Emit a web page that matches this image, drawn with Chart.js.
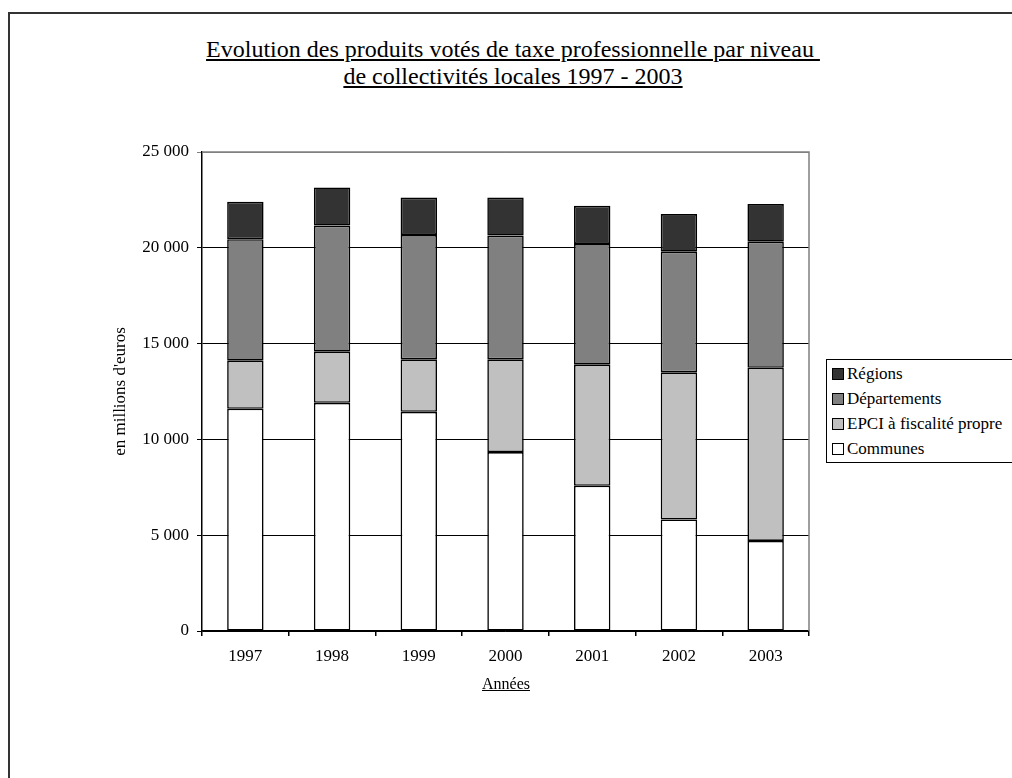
<!DOCTYPE html>
<html lang="fr">
<head>
<meta charset="utf-8">
<title>Taxe professionnelle 1997 - 2003</title>
<script src="https://cdn.jsdelivr.net/npm/chart.js@4.4.1/dist/chart.umd.min.js"></script>
<style>
  html, body { margin: 0; padding: 0; background: #fff; }
  body { width: 1012px; height: 778px; overflow: hidden; position: relative; font-family: "Liberation Serif", "Times New Roman", serif; color: #000; }
  #frame { position: absolute; left: 8px; top: 12px; width: 1100px; height: 900px; border-left: 2px solid #333; border-top: 2px solid #333; }
  #titre { position: absolute; left: 0; width: 1026px; top: 36px; text-align: center; font-size: 24px; line-height: 27px; }
  #titre span { text-decoration: underline; }
  #canvasWrap { position: absolute; left: 0; top: 0; width: 1012px; height: 778px; }
  #annees { position: absolute; left: 406px; width: 200px; top: 675px; text-align: center; font-size: 16px; text-decoration: underline; }
  #legende { position: absolute; left: 826px; top: 359px; width: 220px; height: 102px; border: 1px solid #000; background: #fff; }
  .item { position: absolute; left: 5px; height: 20px; font-size: 17px; line-height: 20px; white-space: nowrap; }
  .item i { display: inline-block; width: 10px; height: 10px; border: 1.5px solid #000; margin-right: 3px; vertical-align: -1px; }
</style>
</head>
<body>
<div id="frame"></div>
<div id="titre"><span>Evolution des produits votés de taxe professionnelle par niveau&nbsp;</span><br><span>de collectivités locales 1997 - 2003</span></div>
<div id="canvasWrap"><canvas id="graphique"></canvas></div>
<div id="annees">Années</div>
<div id="legende"></div>
<script>
// données (millions d'euros)
const annees = ['1997', '1998', '1999', '2000', '2001', '2002', '2003'];
const communes = [11600, 11910, 11440, 9340, 7580, 5820, 4700];
const epci = [2510, 2670, 2740, 4840, 6320, 7680, 9040];
const departements = [6340, 6580, 6490, 6460, 6300, 6300, 6580];
const regions = [1950, 1990, 1950, 1980, 1990, 1960, 1960];
const ticksY = [0, 5000, 10000, 15000, 20000, 25000];

const police = "'Liberation Serif', 'Times New Roman', serif";

// cadre gris haut/droite de la zone de tracé
const cadreZone = {
    id: 'cadreZone',
    beforeDatasetsDraw(chart) {
        const { ctx, chartArea: a } = chart;
        ctx.save();
        ctx.strokeStyle = '#808080';
        ctx.lineWidth = 1.5;
        ctx.beginPath();
        ctx.moveTo(a.left, a.top);
        ctx.lineTo(a.right, a.top);
        ctx.lineTo(a.right, a.bottom);
        ctx.stroke();
        ctx.restore();
    },
};

const ctx = document.getElementById('graphique').getContext('2d');
const chart = new Chart(ctx, {
    type: 'bar',
    data: {
        labels: annees,
        datasets: [
            { label: 'Communes', data: communes, backgroundColor: '#ffffff' },
            { label: 'EPCI à fiscalité propre', data: epci, backgroundColor: '#c0c0c0' },
            { label: 'Départements', data: departements, backgroundColor: '#808080' },
            { label: 'Régions', data: regions, backgroundColor: '#333333' },
        ].map((d) => ({
            ...d,
            borderColor: '#000',
            borderWidth: 1.6,
            borderSkipped: false,
            inflateAmount: 0,
            barPercentage: 0.42,
            categoryPercentage: 1,
        })),
    },
    options: {
        responsive: true,
        maintainAspectRatio: false,
        animation: false,
        layout: { padding: { left: 110, top: 152, right: 203, bottom: 107 } },
        plugins: {
            legend: { display: false },
            title: { display: false },
            tooltip: { enabled: false },
        },
        scales: {
            x: {
                stacked: true,
                afterFit: (scale) => { scale.height = 40; },
                border: { color: '#000', width: 1.5 },
                grid: { drawOnChartArea: false, offset: true, tickLength: 5, color: '#000', lineWidth: 1.5 },
                ticks: { color: '#000', padding: 10, font: { family: police, size: 17 } },
            },
            y: {
                stacked: true,
                min: 0,
                max: 25000,
                afterFit: (scale) => { scale.width = 92; },
                afterBuildTicks: (scale) => { scale.ticks = ticksY.map((v) => ({ value: v })); },
                border: { color: '#000', width: 1.5 },
                grid: {
                    color: (c) => (c.tick && c.tick.value === 25000 ? '#808080' : '#000'),
                    lineWidth: 1,
                    tickLength: 5,
                },
                ticks: {
                    color: '#000',
                    padding: 8,
                    font: { family: police, size: 17 },
                    callback: (v) => String(v).replace(/\B(?=(\d{3})+(?!\d))/g, ' '),
                },
                title: {
                    display: true,
                    text: "en millions d'euros",
                    color: '#000',
                    padding: { top: 0, bottom: 0 },
                    font: { family: police, size: 17 },
                },
            },
        },
    },
    plugins: [cadreZone],
});

// légende construite à partir des séries du graphique
const legende = document.getElementById('legende');
chart.data.datasets.slice().reverse().forEach((d, i) => {
    const el = document.createElement('div');
    el.className = 'item';
    el.style.top = (4 + i * 25) + 'px';
    el.innerHTML = '<i style="background:' + d.backgroundColor + '"></i>' + d.label;
    legende.appendChild(el);
});
</script>
</body>
</html>
